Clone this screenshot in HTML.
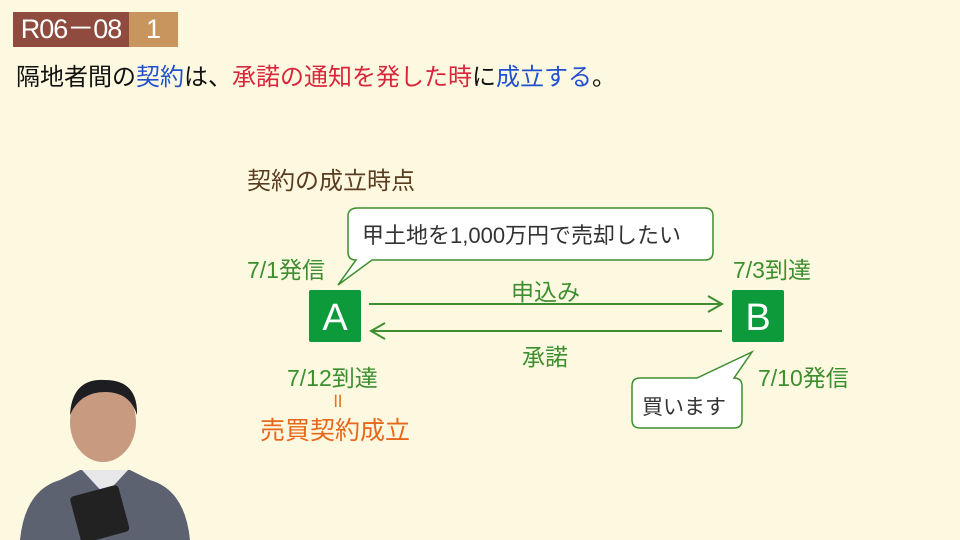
<!DOCTYPE html><html><head><meta charset="utf-8"><style>
body{margin:0;width:960px;height:540px;background:#fdf9e0;position:relative;overflow:hidden;font-family:"Liberation Sans","Noto Sans CJK JP",sans-serif}
.t{position:absolute;white-space:nowrap}
.g{color:#3d8e2f;font-size:23px}
</style></head><body>
<div class="t" style="left:13px;top:12px;width:116px;height:35px;background:#8f4b3e;color:#fff;font-size:27px;line-height:35px;text-align:center;letter-spacing:-1px">R06－08</div>
<div class="t" style="left:129px;top:12px;width:49px;height:35px;background:#c9955f;color:#fff;font-size:27px;line-height:35px;text-align:center">1</div>
<div class="t" style="left:16px;top:57px;font-size:24px;color:#111">隔地者間の<span style="color:#2250d0">契約</span>は、<span style="color:#d8263c">承諾の通知を発した時</span>に<span style="color:#2250d0">成立する</span>。</div>
<div class="t" style="left:247px;top:161px;font-size:24px;color:#5a3c20">契約の成立時点</div>
<svg width="960" height="540" style="position:absolute;left:0;top:0">
<path d="M358 208 H705 Q713 208 713 216 V252 Q713 260 705 260 H372 L338 285 L356 260 Q348 260 348 252 V216 Q348 208 358 208Z" fill="#fff" stroke="#3d8e2f" stroke-width="1.5"/>
<path d="M640 378 H697 L752 352 L734 378 Q742 378 742 386 V420 Q742 428 734 428 H640 Q632 428 632 420 V386 Q632 378 640 378Z" fill="#fff" stroke="#3d8e2f" stroke-width="1.5"/>
<rect x="309" y="290" width="52" height="52" rx="2" fill="#0c9a3a"/>
<rect x="732" y="290" width="52" height="52" rx="2" fill="#0c9a3a"/>
<g stroke="#3d8e2f" stroke-width="2" fill="none">
<line x1="369" y1="304" x2="722" y2="304"/><polyline points="708,296 722,304 708,312"/>
<line x1="371" y1="331" x2="722" y2="331"/><polyline points="385,323 371,331 385,339"/>
</g>
<text x="335" y="330" font-size="38" fill="#fff" text-anchor="middle" font-family="Liberation Sans">A</text>
<text x="758" y="330" font-size="38" fill="#fff" text-anchor="middle" font-family="Liberation Sans">B</text>
</svg>
<div class="t" style="left:362px;top:218px;font-size:22px;color:#333">甲土地を1,000万円で売却したい</div>
<div class="t" style="left:642px;top:391px;font-size:21px;color:#333">買います</div>
<div class="t g" style="left:247px;top:251px">7/1発信</div>
<div class="t g" style="left:733px;top:251px">7/3到達</div>
<div class="t g" style="left:511px;top:273px">申込み</div>
<div class="t g" style="left:522px;top:338px">承諾</div>
<div class="t g" style="left:287px;top:359px">7/12到達</div>
<div class="t g" style="left:758px;top:359px">7/10発信</div>
<div class="t" style="left:331px;top:386px;font-size:20px;color:#e8741a">॥</div>
<div class="t" style="left:260px;top:411px;font-size:25px;color:#e8681a">売買契約成立</div>
<svg width="200" height="170" style="position:absolute;left:0;top:370px">
<path d="M20 170 Q25 120 60 110 L80 100 H130 L150 110 Q185 120 190 170Z" fill="#5c6270"/>
<path d="M82 100 L105 125 L128 100Z" fill="#e8e8ea"/>
<ellipse cx="103" cy="52" rx="33" ry="40" fill="#c89a80"/>
<path d="M70 45 Q72 8 105 10 Q138 10 137 45 Q130 22 105 22 Q80 22 70 45Z" fill="#1d1d22"/>
<rect x="75" y="120" width="50" height="48" rx="4" fill="#222" transform="rotate(-15 100 145)"/>
</svg>
</body></html>
